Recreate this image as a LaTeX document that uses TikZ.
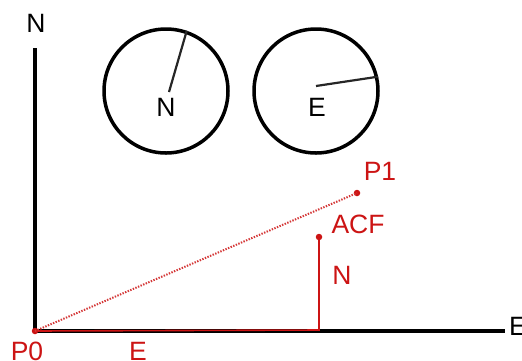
\documentclass[tikz,border=0pt]{standalone}
\usepackage{fontspec}
\setmainfont{Liberation Sans}
\definecolor{cred}{RGB}{204,20,20}
\begin{document}
\begin{tikzpicture}[x=1pt,y=-1pt,
  lbl/.style={inner sep=0pt,font=\fontsize{26.5}{30}\selectfont},
  rlbl/.style={lbl,text=cred},
  axis/.style={line width=3.5pt,black},
  dial/.style={circle,draw=black,line width=3.5pt,minimum size=124pt,inner sep=0pt},
  needle/.style={line width=2.2pt,black!85},
  rline/.style={cred,line width=1.6pt},
  rdot/.style={circle,fill=cred,inner sep=0pt,minimum size=6.5pt}]
\useasboundingbox (0,0) rectangle (522,360);
% axes
\coordinate (top) at (35,48);
\coordinate (orig) at (35,331);
\coordinate (right) at (505,331);
\draw[axis] (top) -- (orig) -- (right);
\node[lbl] (ny) at (36,23) {N};
\node[lbl,anchor=west] (ex) at (509,326) {E};
% dials
\node[dial] (c1) at (166,91) {};
\node[dial] (c2) at (316,91) {};
\coordinate (n1s) at (169,92);
\coordinate (n2s) at (316,86);
\draw[needle] (n1s) -- (c1.71);
\draw[needle] (n2s) -- (c2.13);
\node[lbl] (n1) at (166,107) {N};
\node[lbl] (e1) at (317,107) {E};
% red construction
\node[rdot] (p0) at (35,331) {};
\node[rdot] (acf) at (319,237) {};
\node[rdot] (p1) at (357,193) {};
\coordinate (foot) at (319,330);
\draw[rline] (p0.center) -- (foot) -- (acf.center);
\draw[cred!85,line width=2pt,dash pattern=on 1.4pt off 1.4pt] (p0.center) -- (p1.center);
\node[rlbl] (lp0) at (27,351) {P0};
\node[rlbl] (le) at (138,351) {E};
\node[rlbl] (ln) at (342,275) {N};
\node[rlbl] (lacf) at (358,224) {ACF};
\node[rlbl] (lp1) at (380,171) {P1};
\end{tikzpicture}
\end{document}
